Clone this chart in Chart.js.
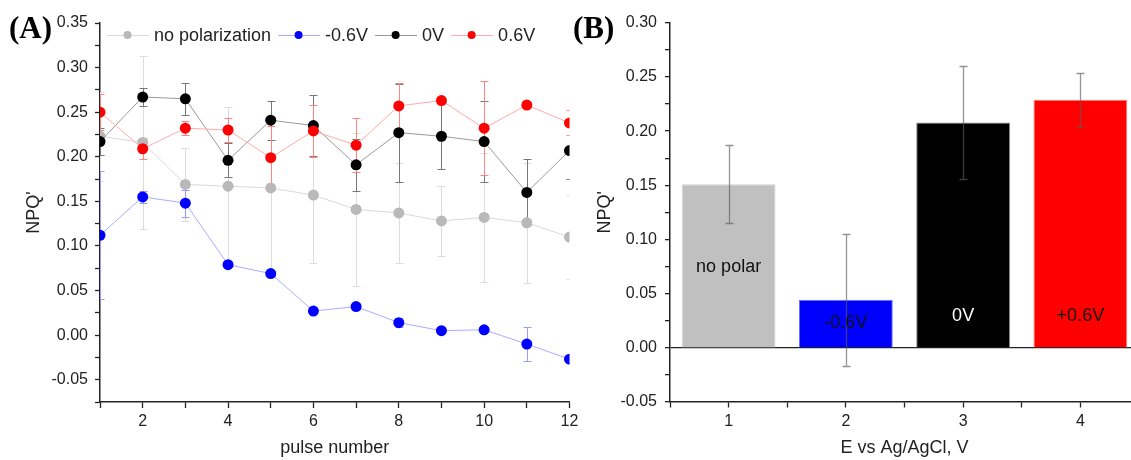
<!DOCTYPE html>
<html>
<head>
<meta charset="utf-8">
<script src="https://cdn.jsdelivr.net/npm/chart.js@4.4.0/dist/chart.umd.min.js"></script>
<style>
html, body { margin: 0; padding: 0; background: #fff; width: 1131px; height: 460px; overflow: hidden; position: relative; }
.panel { position: absolute; font: bold 31px 'Liberation Serif', 'Times New Roman', serif; line-height: 31px; color: #000; }
#wrapA { position: absolute; left: 0; top: 0; }
#wrapB { position: absolute; left: 575px; top: 0; }
</style>
</head>
<body>
<div id="wrapA"><canvas id="chartA" width="590" height="460"></canvas></div>
<div id="wrapB"><canvas id="chartB" width="570" height="460"></canvas></div>
<div class="panel" style="left:9px;top:12px">(A)</div>
<div class="panel" style="left:573px;top:12px">(B)</div>
<script>
// ---- data (A) ----
var pulses = [1, 2, 3, 4, 5, 6, 7, 8, 9, 10, 11, 12];
var noPol    = [0.223, 0.216, 0.169, 0.167, 0.165, 0.157, 0.141, 0.137, 0.128, 0.132, 0.126, 0.110];
var noPolErr = [0.050, 0.097, 0.041, 0.089, 0.098, 0.076, 0.086, 0.056, 0.039, 0.072, 0.067, 0.047];
var neg06    = [0.112, 0.155, 0.148, 0.079, 0.069, 0.027, 0.032, 0.014, 0.005, 0.006, -0.010, -0.027];
var neg06Err = [0.072, 0.007, 0.015, 0.003, 0.003, 0.002, 0.004, 0.005, 0.002, 0.002, 0.019, 0.003];
var zeroV    = [0.217, 0.267, 0.265, 0.196, 0.241, 0.235, 0.191, 0.227, 0.223, 0.217, 0.160, 0.207];
var zeroVErr = [0.015, 0.010, 0.018, 0.019, 0.022, 0.034, 0.029, 0.055, 0.037, 0.045, 0.037, 0.032];
var pos06    = [0.250, 0.209, 0.232, 0.230, 0.199, 0.229, 0.213, 0.257, 0.263, 0.232, 0.258, 0.238];
var pos06Err = [0.020, 0.012, 0.008, 0.014, 0.036, 0.029, 0.030, 0.026, 0.004, 0.053, 0.003, 0.014];

// ---- data (B) ----
var potentials = [1, 2, 3, 4];
var barLabels  = ['no polar', '-0.6V', '0V', '+0.6V'];
var barMeans   = [0.151, 0.044, 0.208, 0.229];
var barErrs    = [0.036, 0.061, 0.052, 0.025];

Chart.defaults.font.family = "'Liberation Sans', Arial, sans-serif";
Chart.defaults.color = '#222';

function fmtTick(v) {
    var k = Math.round(v / 0.05);
    if (Math.abs(k * 0.05 - v) < 1e-6) return (k * 0.05).toFixed(2);
    return '';
}

// vertical error bars from dataset.errors, placed with the chart scales
function drawErrors(chart, clipToArea) {
    var ctx = chart.ctx, xs = chart.scales.x, ys = chart.scales.y, a = chart.chartArea;
    chart.data.datasets.forEach(function (ds) {
        if (!ds.errors) return;
        ctx.save();
        if (clipToArea) {
            ctx.beginPath();
            ctx.rect(a.left, a.top, a.right - a.left, a.bottom - a.top);
            ctx.clip();
        }
        ctx.lineWidth = ds.errorWidth || 1;
        ctx.strokeStyle = ds.errorColor;
        ds.data.forEach(function (p, i) {
            var e = ds.errors[i];
            if (!e) return;
            var px = Math.round(xs.getPixelForValue(p.x)) + 0.5;
            var top = Math.round(ys.getPixelForValue(p.y + e)) + 0.5;
            var bot = Math.round(ys.getPixelForValue(p.y - e)) + 0.5;
            ctx.beginPath();
            ctx.moveTo(px, top); ctx.lineTo(px, bot);
            ctx.moveTo(px - 4, top); ctx.lineTo(px + 4, top);
            ctx.moveTo(px - 4, bot); ctx.lineTo(px + 4, bot);
            ctx.stroke();
        });
        ctx.restore();
    });
}

var errorsBelow = { id: 'errorsBelow', beforeDatasetsDraw: function (c) { drawErrors(c, true); } };
var errorsAbove = { id: 'errorsAbove', afterDatasetsDraw: function (c) { drawErrors(c, false); } };

// legend inside the plot, line + dot + text
var innerLegend = {
    id: 'innerLegend',
    afterDraw: function (chart) {
        var ctx = chart.ctx, area = chart.chartArea;
        var x = area.left + 7, y = area.top + 12;
        ctx.save();
        ctx.font = "18px 'Liberation Sans', Arial, sans-serif";
        ctx.textBaseline = 'middle';
        chart.data.datasets.forEach(function (ds) {
            ctx.strokeStyle = ds.borderColor;
            ctx.lineWidth = 1;
            ctx.beginPath();
            ctx.moveTo(x, y + 0.5); ctx.lineTo(x + 42, y + 0.5);
            ctx.stroke();
            ctx.fillStyle = ds.pointBackgroundColor;
            ctx.beginPath();
            ctx.arc(x + 20.5, y, 4, 0, Math.PI * 2);
            ctx.fill();
            ctx.fillStyle = '#222';
            ctx.fillText(ds.label, x + 47, y + 1);
            x += 47 + ctx.measureText(ds.label).width + 7;
        });
        ctx.restore();
    }
};

// text written inside each bar
var barText = {
    id: 'barText',
    afterDatasetsDraw: function (chart) {
        var ctx = chart.ctx, xs = chart.scales.x, ys = chart.scales.y;
        var at = [0.074, 0.023, 0.029, 0.029];
        var col = ['#111', '#111', '#fff', '#111'];
        ctx.save();
        ctx.font = "18px 'Liberation Sans', Arial, sans-serif";
        ctx.textAlign = 'center';
        ctx.textBaseline = 'middle';
        barLabels.forEach(function (t, i) {
            ctx.fillStyle = col[i];
            ctx.fillText(t, xs.getPixelForValue(potentials[i]), ys.getPixelForValue(at[i]));
        });
        ctx.restore();
    }
};

function series(label, vals, errs, color, lineColor, errColor, order) {
    return {
        label: label,
        data: pulses.map(function (p, i) { return { x: p, y: vals[i] }; }),
        errors: errs,
        errorColor: errColor,
        borderColor: lineColor,
        borderWidth: 1,
        pointBackgroundColor: color,
        pointBorderColor: color,
        pointBorderWidth: 0,
        pointRadius: 5.5,
        tension: 0,
        clip: 0,
        order: order
    };
}

new Chart(document.getElementById('chartA').getContext('2d'), {
    type: 'line',
    data: {
        datasets: [
            series('no polarization', noPol, noPolErr, '#b9b9b9', '#d9d9d9', '#dcdcdc', 4),
            series('-0.6V', neg06, neg06Err, '#0000ff', '#a9adff', '#9a9aff', 3),
            series('0V', zeroV, zeroVErr, '#000000', '#9a9a9a', '#777777', 2),
            series('0.6V', pos06, pos06Err, '#ff0000', '#ffabab', '#ff8585', 1)
        ]
    },
    options: {
        responsive: false,
        animation: false,
        layout: { padding: { top: 23, right: 20.5, left: 0, bottom: 0 } },
        plugins: { legend: { display: false }, tooltip: { enabled: false } },
        scales: {
            x: {
                type: 'linear', min: 1, max: 12,
                ticks: { stepSize: 1, autoSkip: false, maxRotation: 0, padding: 4, font: { size: 16 },
                    callback: function (v) { return v % 2 === 0 ? String(v) : ''; } },
                grid: { drawOnChartArea: false, tickLength: 6, tickColor: '#222', tickWidth: 1.3 },
                border: { color: '#222', width: 1.5 },
                title: { display: true, text: 'pulse number', font: { size: 18 }, padding: { top: 0, bottom: 1 } },
                afterFit: function (s) { s.height = 58; }
            },
            y: {
                min: -0.075, max: 0.35,
                ticks: { stepSize: 0.025, autoSkip: false, padding: 7, font: { size: 16 }, callback: fmtTick },
                grid: { drawOnChartArea: false, tickLength: 5, tickColor: '#222', tickWidth: 1.3 },
                border: { color: '#222', width: 1.5 },
                title: { display: true, text: "NPQ'", font: { size: 18 }, padding: { top: 23, bottom: 0 } },
                afterFit: function (s) { s.width = 100; }
            }
        }
    },
    plugins: [errorsBelow, innerLegend]
});

new Chart(document.getElementById('chartB').getContext('2d'), {
    type: 'bar',
    data: {
        datasets: [{
            data: potentials.map(function (p, i) { return { x: p, y: barMeans[i] }; }),
            errors: barErrs,
            errorColor: 'rgba(90,90,90,0.65)',
            errorWidth: 1.3,
            backgroundColor: ['#c0c0c0', '#0000ff', '#000000', '#ff0000'],
            borderColor: ['#d0d0d0', '#6f6fff', '#8a8a8a', '#ff7a7a'],
            borderWidth: 1,
            borderSkipped: 'bottom',
            barPercentage: 1.0,
            categoryPercentage: 1.6
        }]
    },
    options: {
        responsive: false,
        animation: false,
        layout: { padding: { top: 23, right: 6, left: 0, bottom: 0 } },
        plugins: { legend: { display: false }, tooltip: { enabled: false } },
        scales: {
            x: {
                type: 'linear', min: 0.5, max: 4.5, offset: false,
                ticks: { stepSize: 0.5, autoSkip: false, maxRotation: 0, padding: 4, font: { size: 16 },
                    callback: function (v) { return Number.isInteger(v) ? String(v) : ''; } },
                grid: { offset: false, drawOnChartArea: false, tickLength: 6, tickColor: '#222', tickWidth: 1.3 },
                border: { color: '#222', width: 1.5 },
                title: { display: true, text: 'E vs Ag/AgCl, V', font: { size: 18 }, padding: { top: 0, bottom: 1 } },
                afterFit: function (s) { s.height = 58.5; }
            },
            y: {
                min: -0.05, max: 0.30,
                ticks: { stepSize: 0.025, autoSkip: false, padding: 8, font: { size: 16 }, callback: fmtTick },
                grid: {
                    drawOnChartArea: true,
                    color: function (c) { return c.tick && Math.abs(c.tick.value) < 1e-9 ? '#222' : 'rgba(0,0,0,0)'; },
                    lineWidth: 1.3,
                    tickLength: 5, tickColor: '#222', tickWidth: 1.3
                },
                border: { color: '#222', width: 1.5 },
                title: { display: true, text: "NPQ'", font: { size: 18 }, padding: { top: 19, bottom: 0 } },
                afterFit: function (s) { s.width = 95; }
            }
        }
    },
    plugins: [errorsAbove, barText]
});
</script>
</body>
</html>
